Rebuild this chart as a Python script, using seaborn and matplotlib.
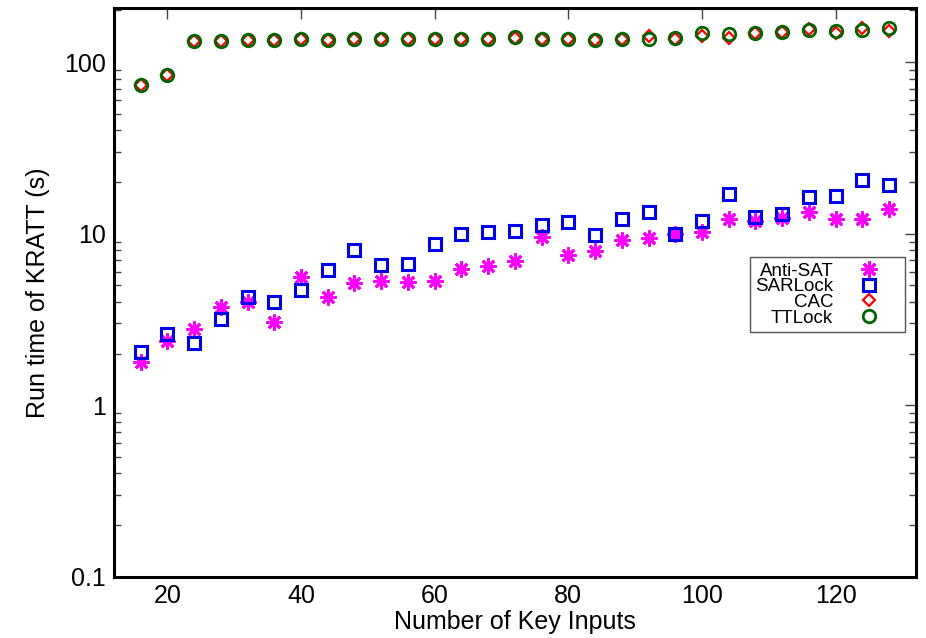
import numpy as np
import pandas as pd
import seaborn as sns
import matplotlib.pyplot as plt
from matplotlib.ticker import FixedLocator, FuncFormatter, LogLocator, NullFormatter

# number of key inputs
key_inputs = list(range(16, 129, 4))

# run times (s)
anti_sat = [1.78, 2.38, 2.78, 3.76, 4.02, 3.07, 5.58, 4.26, 5.17, 5.29, 5.26, 5.29, 6.24, 6.47,
            6.97, 9.52, 7.55, 7.89, 9.23, 9.44, 10.0, 10.2, 12.1, 11.8, 12.3, 13.4, 12.1, 12.2, 13.9]
sarlock = [2.05, 2.61, 2.31, 3.16, 4.26, 4.01, 4.68, 6.18, 8.07, 6.6, 6.63, 8.71, 9.96, 10.2,
           10.4, 11.2, 11.7, 9.87, 12.1, 13.4, 10.0, 11.9, 17.0, 12.5, 13.0, 16.3, 16.5, 20.6, 19.3]
cac = [73.5, 84, 133, 133, 135, 135, 137, 135, 137, 137, 137, 137, 137, 137,
       139, 137, 137, 135, 137, 142, 136, 142, 139, 147, 149, 155, 147, 158, 152]
ttlock = [73.8, 84, 133, 133, 135, 135, 137, 135, 137, 137, 137, 137, 137, 137,
          141, 137, 137, 135, 137, 136, 139, 148, 146, 147, 149, 153, 152, 154, 158]

series = ["Anti-SAT", "SARLock", "CAC", "TTLock"]
colors = {"Anti-SAT": "#ff00ff", "SARLock": "#0000ee", "CAC": "#ff0000", "TTLock": "#006400"}
markers = {"Anti-SAT": (8, 2, 0), "SARLock": "s", "CAC": "D", "TTLock": "o"}
sizes = {"Anti-SAT": 11.5, "SARLock": 9, "CAC": 6, "TTLock": 9}
widths = {"Anti-SAT": 2.0, "SARLock": 2.2, "CAC": 1.6, "TTLock": 2.0}

df = pd.DataFrame({"x": key_inputs, "Anti-SAT": anti_sat, "SARLock": sarlock,
                   "CAC": cac, "TTLock": ttlock})
df_long = df.melt(id_vars="x", var_name="method", value_name="time")

sns.set_style("white")
plt.rcParams['font.family'] = ['Liberation Sans', 'DejaVu Sans']
plt.rcParams['text.color'] = 'black'
plt.rcParams['axes.labelcolor'] = 'black'
plt.rcParams['xtick.labelcolor'] = 'black'
plt.rcParams['ytick.labelcolor'] = 'black'

fig = plt.figure(figsize=(9.26, 6.38), dpi=100)
ax = fig.add_axes([0.123, 0.096, 0.866, 0.891])

for name in series:
    d = df_long[df_long["method"] == name]
    sns.lineplot(data=d, x="x", y="time", ax=ax, label=name, linestyle="none",
                 marker=markers[name], markersize=sizes[name], markerfacecolor="none",
                 markeredgecolor=colors[name], markeredgewidth=widths[name],
                 color=colors[name])

ax.set_yscale("log")
ax.set_xlim(12, 132)
ax.set_ylim(0.1, 206)

ax.xaxis.set_major_locator(FixedLocator([20, 40, 60, 80, 100, 120]))
ax.yaxis.set_major_locator(FixedLocator([0.1, 1, 10, 100]))
ax.yaxis.set_major_formatter(FuncFormatter(lambda v, p: "%g" % v))
ax.yaxis.set_minor_locator(LogLocator(base=10, subs=np.arange(2, 10)))
ax.yaxis.set_minor_formatter(NullFormatter())

ax.tick_params(axis="both", which="major", direction="in", top=True, right=True,
               length=8, width=1, color="#444444", labelcolor="black", labelsize=18, pad=6)
ax.tick_params(axis="x", which="major", pad=5)
ax.tick_params(axis="y", which="minor", direction="in", left=True, right=True,
               length=5, width=1, color="#444444")

for s in ax.spines.values():
    s.set_linewidth(2.2)
    s.set_color("black")

ax.set_xlabel("Number of Key Inputs", fontsize=18, labelpad=2, color="black")
ax.set_ylabel("Run time of KRATT (s)", fontsize=18, labelpad=10, color="black")

leg = ax.legend(loc="upper right", bbox_to_anchor=(0.986, 0.5625), fontsize=13.5,
                markerfirst=False, fancybox=False, framealpha=1, edgecolor="#555555",
                borderpad=0.3, labelspacing=-0.08, handlelength=3.2, handletextpad=0.3,
                borderaxespad=0)
leg.get_frame().set_linewidth(1.0)
for col in leg._legend_handle_box.get_children():
    col.align = "right"

fig.savefig("out.png", dpi=100)
